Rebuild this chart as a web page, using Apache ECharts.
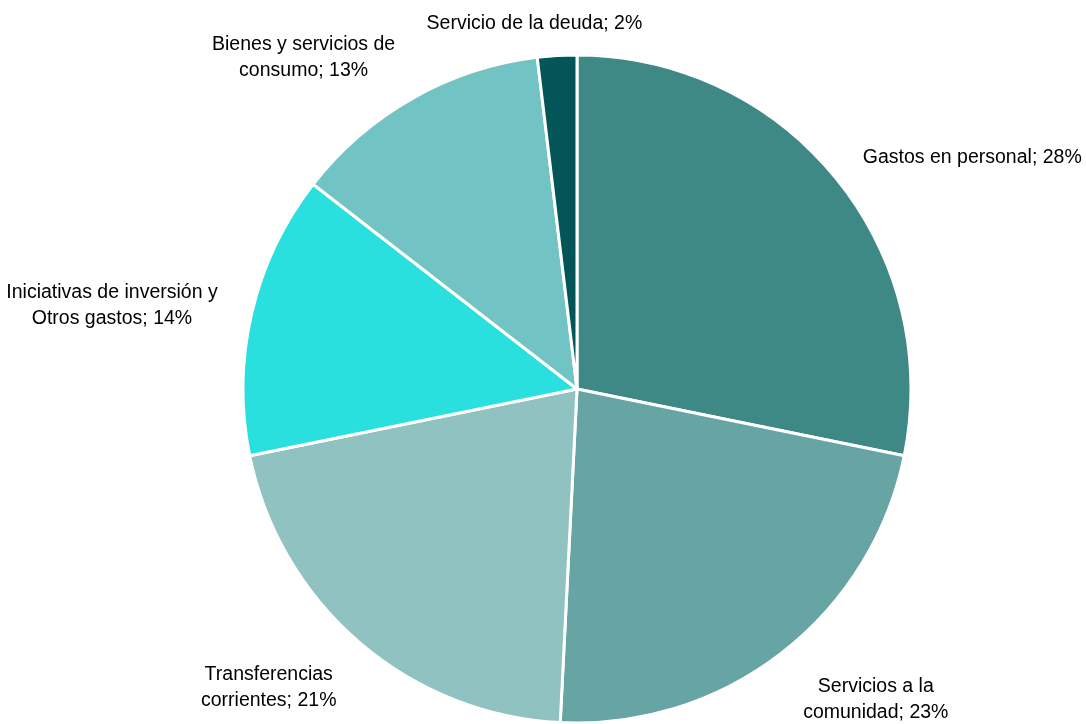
<!DOCTYPE html>
<html>
<head>
<meta charset="utf-8">
<script src="https://cdn.jsdelivr.net/npm/echarts@6/dist/echarts.min.js"></script>
<style>html,body{margin:0;padding:0;background:#fff;}#c{width:1086px;height:724px;}</style>
</head>
<body>
<div id="c"></div>
<script>
const categories = [
  'Gastos en personal',
  'Servicios a la\ncomunidad',
  'Transferencias\ncorrientes',
  'Iniciativas de inversión y\nOtros gastos',
  'Bienes y servicios de\nconsumo',
  'Servicio de la deuda'
];
const values = [28.2, 22.6, 21.0, 13.7, 12.6, 1.9];
const colors = ['#3E8886', '#66A5A3', '#90C2C1', '#29E0DE', '#72C3C3', '#035557'];

const CX = 577, CY = 389, R = 334, GAP = 35;
const total = values.reduce((a, b) => a + b, 0);
function midDir(i) {
  let before = 0;
  for (let k = 0; k < i; k++) before += values[k];
  const a = (before + values[i] / 2) / total * 2 * Math.PI; // clockwise from top
  return [Math.sin(a), -Math.cos(a)];
}

const chart = echarts.init(document.getElementById('c'));
chart.setOption({
  animation: false,
  series: [{
    type: 'pie',
    center: [CX, CY],
    radius: [0, R],
    startAngle: 90,
    clockwise: true,
    data: categories.map((n, i) => ({ name: n, value: values[i], itemStyle: { color: colors[i] } })),
    itemStyle: { borderColor: '#fff', borderWidth: 3 },
    label: {
      show: true,
      position: 'outside',
      overflow: 'none',
      formatter: p => p.name + '; ' + Math.round(p.percent) + '%',
      fontFamily: '"Liberation Sans", Arial, sans-serif',
      fontSize: 19.5,
      lineHeight: 26,
      color: '#000'
    },
    labelLine: { show: false, length: GAP, length2: 0 },
    labelLayout: function (p) {
      const d = midDir(p.dataIndex);
      const w = p.labelRect.width, h = p.labelRect.height;
      const px = CX + (R + GAP) * d[0], py = CY + (R + GAP) * d[1];
      let x;
      if (Math.abs(d[0]) < 0.15) x = px + d[0] * w * 1.6;
      else x = px + Math.sign(d[0]) * w / 2;
      const y = py + d[1] * Math.max(0, h / 2 - 8) + 5;
      return { x: x, y: y + (Math.abs(d[0]) < 0.15 ? 3 : 0), align: 'center', verticalAlign: 'middle' };
    }
  }]
});
</script>
</body>
</html>
